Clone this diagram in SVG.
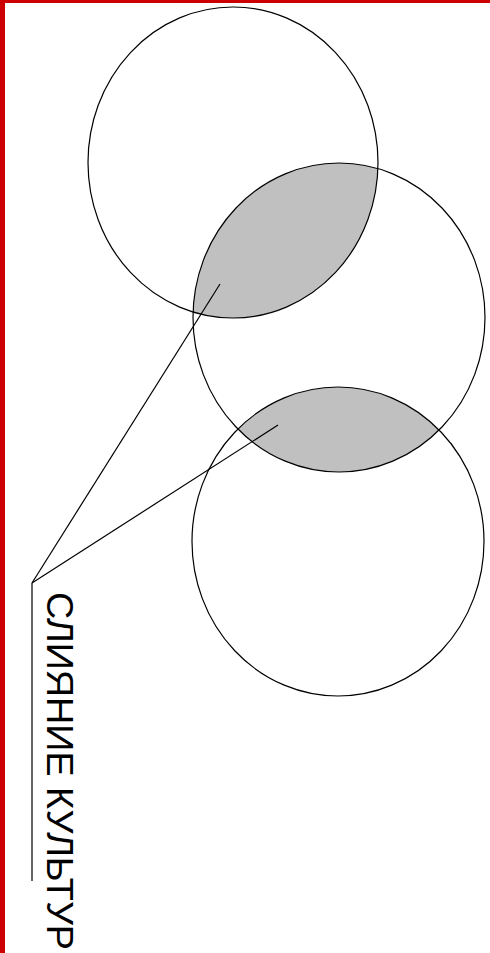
<svg xmlns="http://www.w3.org/2000/svg" width="490" height="953" viewBox="0 0 490 953">
<style>
.c{fill:none;stroke:#000;stroke-width:1.2}
.lens{fill:#c0c0c0;stroke:none}
.ln{stroke:#000;stroke-width:1.2;fill:none}
.t{font-family:"Liberation Sans",Arial,sans-serif;font-size:36px;fill:#000}
</style>
<defs>
<clipPath id="cp1"><ellipse cx="233" cy="162.5" rx="145" ry="155.5"/></clipPath>
<clipPath id="cp3"><ellipse cx="338" cy="541.5" rx="146" ry="154.5"/></clipPath>
</defs>
<rect x="0" y="0" width="490" height="953" fill="#fff"/>
<rect x="0" y="0" width="5" height="953" fill="#cc0000"/>
<rect x="0" y="0" width="490" height="3" fill="#cc0000"/>
<g id="lens1"><ellipse class="lens" cx="339" cy="317.5" rx="146" ry="154.5" clip-path="url(#cp1)"/></g>
<g id="lens2"><ellipse class="lens" cx="339" cy="317.5" rx="146" ry="154.5" clip-path="url(#cp3)"/></g>
<g id="circle1"><ellipse class="c" cx="233" cy="162.5" rx="145" ry="155.5"/></g>
<g id="circle2"><ellipse class="c" cx="339" cy="317.5" rx="146" ry="154.5"/></g>
<g id="circle3"><ellipse class="c" cx="338" cy="541.5" rx="146" ry="154.5"/></g>
<g id="connectors">
<line class="ln" x1="32" y1="583" x2="220" y2="284"/>
<line class="ln" x1="32" y1="583" x2="278" y2="425"/>
<line class="ln" x1="32" y1="583" x2="32" y2="881"/>
</g>
<g id="label"><text class="t" transform="translate(47,592) rotate(90)" x="0" y="0" textLength="358" lengthAdjust="spacingAndGlyphs">СЛИЯНИЕ КУЛЬТУР</text></g>
</svg>
